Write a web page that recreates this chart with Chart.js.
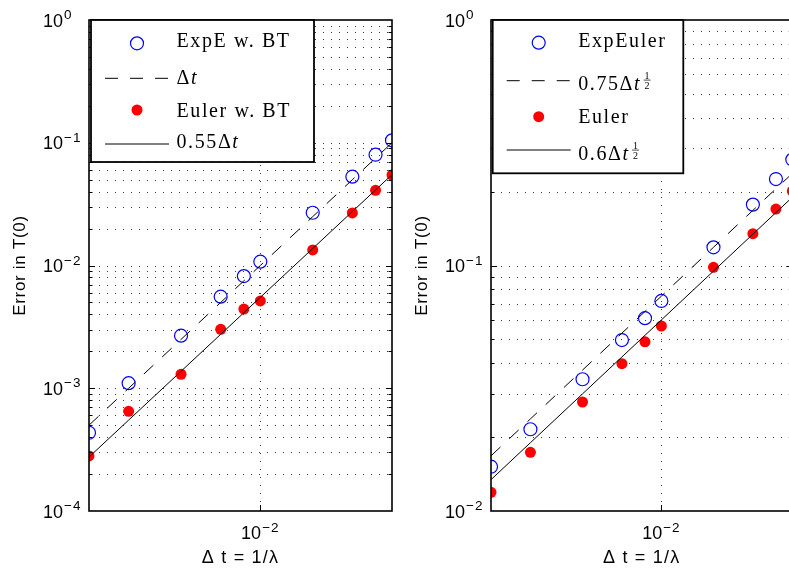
<!DOCTYPE html>
<html>
<head>
<meta charset="utf-8">
<script src="https://cdn.jsdelivr.net/npm/chart.js@4.4.0/dist/chart.umd.min.js"></script>
<style>
  html, body { margin: 0; padding: 0; background: #fff; overflow: hidden; width: 789px; height: 572px; }
  canvas { position: absolute; top: 0; }
  #leftPlot { left: 0; }
  #rightPlot { left: 400px; }
</style>
</head>
<body>
<canvas id="leftPlot" width="400" height="572"></canvas>
<canvas id="rightPlot" width="400" height="572"></canvas>
<script>
// Time steps Δt = 1/λ
const dtValues   = [5e-4, 1e-3, 2.5e-3, 5e-3, 7.5e-3, 1e-2, 2.5e-2, 5e-2, 7.5e-2, 1e-1];

// Errors in T(0), with boundary treatment (left panel)
const expEwBT    = [4.34e-4, 1.10e-3, 2.68e-3, 5.57e-3, 8.20e-3, 1.074e-2, 2.69e-2, 5.29e-2, 7.99e-2, 1.047e-1];
const eulerWBT   = [2.81e-4, 6.49e-4, 1.30e-3, 3.02e-3, 4.42e-3, 5.14e-3, 1.34e-2, 2.68e-2, 4.10e-2, 5.46e-2];

// Errors in T(0), without boundary treatment (right panel)
const expEuler   = [1.515e-2, 2.153e-2, 3.44e-2, 4.97e-2, 6.10e-2, 7.17e-2, 1.186e-1, 1.77e-1, 2.25e-1, 2.70e-1];
const eulerPlain = [1.191e-2, 1.734e-2, 2.78e-2, 3.98e-2, 4.89e-2, 5.67e-2, 9.83e-2, 1.348e-1, 1.698e-1, 2.01e-1];

// Reference slopes C·Δt^p
const leftRefCoef   = [1, 0.55];
const leftRefPower  = 1;
const rightRefCoef  = [0.75, 0.6];
const rightRefPower = 0.5;

const leftLabels  = ['ExpE w. BT', 'Δt', 'Euler w. BT', '0.55Δt'];
const rightLabels = ['ExpEuler', '0.75Δt^{1/2}', 'Euler', '0.6Δt^{1/2}'];

const xTickExponents      = [-2];
const leftYTickExponents  = [0, -1, -2, -3, -4];
const rightYTickExponents = [0, -1, -2];
const xTitle = 'Δ t = 1/λ';
const yTitle = 'Error in T(0)';

const SANS  = '"Liberation Sans", Arial, sans-serif';
const SERIF = '"Liberation Serif", "Times New Roman", serif';

function logGrid(min, max) {
  const vals = [];
  for (let e = Math.floor(Math.log10(min) + 1e-9); e < Math.ceil(Math.log10(max) - 1e-9); e++) {
    for (let k = 1; k <= 9; k++) {
      const v = k * Math.pow(10, e);
      if (v > min * 1.0001 && v < max * 0.9999) vals.push(v);
    }
  }
  return vals;
}

function expText(e) { return e === 0 ? '0' : (e < 0 ? '\u2212' : '') + Math.abs(e); }

// "10" with a raised exponent; x is the left edge of "10"
function drawPow10(ctx, e, x, baseline) {
  ctx.font = '18px ' + SANS;
  ctx.letterSpacing = '0px';
  ctx.textAlign = 'left';
  ctx.textBaseline = 'alphabetic';
  ctx.fillText('10', x, baseline);
  const w = ctx.measureText('10').width;
  ctx.font = '13.5px ' + SANS;
  ctx.letterSpacing = '1px';
  ctx.fillText(expText(e), x + w + 1, baseline - 7.5);
  ctx.letterSpacing = '0px';
}
function pow10Width(ctx, e) {
  ctx.font = '18px ' + SANS; ctx.letterSpacing = '0px';
  const w = ctx.measureText('10').width;
  ctx.font = '13.5px ' + SANS; ctx.letterSpacing = '1px';
  const w2 = ctx.measureText(expText(e)).width;
  ctx.letterSpacing = '0px';
  return w + 1 + w2;
}

// legend text with italic t and an optional ½ exponent
function drawRichLabel(ctx, label, x, baseline) {
  ctx.textAlign = 'left';
  ctx.textBaseline = 'alphabetic';
  ctx.fillStyle = '#000';
  const m = label.match(/^(.*Δ)t(\^\{1\/2\})?$/);
  ctx.letterSpacing = '1.6px';
  if (!m) {
    ctx.font = '20px ' + SERIF;
    ctx.fillText(label, x, baseline);
    ctx.letterSpacing = '0px';
    return;
  }
  ctx.font = '20px ' + SERIF;
  ctx.fillText(m[1], x, baseline);
  let cx = x + ctx.measureText(m[1]).width;
  ctx.letterSpacing = '0px';
  ctx.font = 'italic 20px ' + SERIF;
  ctx.fillText('t', cx, baseline);
  cx += ctx.measureText('t').width;
  if (m[2]) {
    const fx = cx + 4;
    ctx.font = '10px ' + SERIF;
    ctx.textAlign = 'center';
    ctx.fillText('1', fx + 3.5, baseline - 11.2);
    ctx.fillText('2', fx + 3.5, baseline - 1.5);
    ctx.strokeStyle = '#000';
    ctx.lineWidth = 0.7;
    ctx.setLineDash([]);
    ctx.beginPath();
    ctx.moveTo(fx, baseline - 9.9);
    ctx.lineTo(fx + 7, baseline - 9.9);
    ctx.stroke();
    ctx.textAlign = 'left';
  }
}

const framePlugin = {
  id: 'frame',
  beforeDatasetsDraw(chart, _args, o) {
    const { ctx, chartArea: a } = chart;
    const x = chart.scales.x, y = chart.scales.y;
    ctx.save();
    ctx.strokeStyle = '#3a3a3a';
    ctx.lineWidth = 1;
    ctx.setLineDash([1, 7]);
    for (const v of logGrid(y.min, y.max)) {
      const py = Math.round(y.getPixelForValue(v)) + 0.5;
      ctx.beginPath(); ctx.moveTo(a.left + 2, py); ctx.lineTo(a.right - 1, py); ctx.stroke();
    }
    for (const e of o.xTicks) {
      const px = Math.round(x.getPixelForValue(Math.pow(10, e))) + 0.5;
      ctx.beginPath(); ctx.moveTo(px, a.bottom - 1); ctx.lineTo(px, a.top + 1); ctx.stroke();
    }
    ctx.restore();
  },
  afterDatasetsDraw(chart, _args, o) {
    const { ctx, chartArea: a } = chart;
    const x = chart.scales.x, y = chart.scales.y;
    ctx.save();
    ctx.setLineDash([]);
    ctx.strokeStyle = '#000';
    ctx.fillStyle = '#000';

    // tick marks (inward)
    ctx.lineWidth = 1;
    for (const v of logGrid(y.min, y.max)) {
      const py = Math.round(y.getPixelForValue(v)) + 0.5;
      const major = Math.abs(Math.log10(v) - Math.round(Math.log10(v))) < 1e-6;
      const len = major ? 6 : 3.5;
      ctx.beginPath();
      ctx.moveTo(a.left, py); ctx.lineTo(a.left + len, py);
      ctx.moveTo(a.right, py); ctx.lineTo(a.right - len, py);
      ctx.stroke();
    }
    for (const e of o.xTicks) {
      const px = Math.round(x.getPixelForValue(Math.pow(10, e))) + 0.5;
      ctx.beginPath();
      ctx.moveTo(px, a.bottom); ctx.lineTo(px, a.bottom - 6);
      ctx.moveTo(px, a.top); ctx.lineTo(px, a.top + 6);
      ctx.stroke();
    }

    // axes box
    ctx.lineWidth = 1.6;
    ctx.strokeRect(a.left, a.top, a.right - a.left, a.bottom - a.top);

    // tick labels
    for (const e of o.yTicks) {
      const py = y.getPixelForValue(Math.pow(10, e));
      drawPow10(ctx, e, a.left - 46, py + 6.5);
    }
    for (const e of o.xTicks) {
      const px = x.getPixelForValue(Math.pow(10, e));
      const w = pow10Width(ctx, e);
      drawPow10(ctx, e, px - w / 2, a.bottom + 28);
    }

    // axis titles
    ctx.font = '18px ' + SANS;
    ctx.textAlign = 'center';
    ctx.textBaseline = 'alphabetic';
    ctx.letterSpacing = '1.2px';
    ctx.fillText(xTitle, (a.left + a.right) / 2, a.bottom + 52);
    ctx.font = '17px ' + SANS;
    ctx.letterSpacing = '0.7px';
    ctx.save();
    ctx.translate(a.left - 64, (a.top + a.bottom) / 2);
    ctx.rotate(-Math.PI / 2);
    ctx.fillText(yTitle, 0, 0);
    ctx.restore();
    ctx.letterSpacing = '0px';

    // legend
    const L = o.legend;
    ctx.fillStyle = '#fff';
    ctx.fillRect(L.x0, L.y0, L.x1 - L.x0, L.y1 - L.y0);
    ctx.strokeStyle = '#000';
    ctx.lineWidth = 1.8;
    ctx.strokeRect(L.x0, L.y0, L.x1 - L.x0, L.y1 - L.y0);
    chart.data.datasets.forEach((ds, i) => {
      const ry = L.rows[i], by = L.baselines[i];
      if (ds.showLine) {
        ctx.strokeStyle = ds.borderColor;
        ctx.lineWidth = ds.borderWidth;
        ctx.setLineDash(ds.borderDash || []);
        ctx.beginPath();
        ctx.moveTo(L.x0 + 14, ry); ctx.lineTo(L.x0 + 78, ry);
        ctx.stroke();
        ctx.setLineDash([]);
      } else {
        ctx.beginPath();
        ctx.arc(L.x0 + 46, ry, ds.pointRadius, 0, Math.PI * 2);
        if (ds.pointBackgroundColor !== 'rgba(0,0,0,0)') {
          ctx.fillStyle = ds.pointBackgroundColor; ctx.fill();
        } else {
          ctx.strokeStyle = ds.pointBorderColor; ctx.lineWidth = ds.pointBorderWidth; ctx.stroke();
        }
      }
      drawRichLabel(ctx, ds.label, L.x0 + 85.5, by);
    });
    ctx.restore();
  }
};

function refLine(coef, power) {
  return dtValues.map(t => ({ x: t, y: coef * Math.pow(t, power) }));
}
function pts(values) {
  return dtValues.map((t, i) => ({ x: t, y: values[i] }));
}

function buildPanel(canvasId, cfg) {
  const datasets = [
    { label: cfg.labels[0], data: pts(cfg.open), showLine: false, order: 1,
      pointRadius: 6.5, pointBorderWidth: 1.2, pointBorderColor: '#0000ff',
      pointBackgroundColor: 'rgba(0,0,0,0)' },
    { label: cfg.labels[1], data: refLine(cfg.coef[0], cfg.power), showLine: true, order: 0,
      pointRadius: 0, borderColor: '#000', borderWidth: 1, borderDash: [13, 12], fill: false },
    { label: cfg.labels[2], data: pts(cfg.filled), showLine: false, order: 1,
      pointRadius: 5.5, pointBorderWidth: 0, pointBorderColor: '#ff0000',
      pointBackgroundColor: '#ff0000' },
    { label: cfg.labels[3], data: refLine(cfg.coef[1], cfg.power), showLine: true, order: 0,
      pointRadius: 0, borderColor: '#000', borderWidth: 1, fill: false }
  ];
  return new Chart(document.getElementById(canvasId), {
    type: 'scatter',
    data: { datasets },
    plugins: [framePlugin],
    options: {
      responsive: false,
      animation: false,
      devicePixelRatio: 1,
      events: [],
      layout: { padding: cfg.padding },
      plugins: {
        legend: { display: false },
        tooltip: { enabled: false },
        frame: { xTicks: xTickExponents, yTicks: cfg.yTicks, legend: cfg.legend }
      },
      scales: {
        x: { type: 'logarithmic', min: dtValues[0], max: dtValues[dtValues.length - 1], bounds: 'data', display: false },
        y: { type: 'logarithmic', min: cfg.yMin, max: cfg.yMax, bounds: 'data', display: false }
      }
    }
  });
}

buildPanel('leftPlot', {
  labels: leftLabels, open: expEwBT, filled: eulerWBT,
  coef: leftRefCoef, power: leftRefPower,
  yMin: 1e-4, yMax: 1, yTicks: leftYTickExponents,
  padding: { left: 89, top: 20, right: 8, bottom: 61 },
  legend: { x0: 91, y0: 20, x1: 314, y1: 162,
            rows: [43.3, 78.3, 110, 144], baselines: [46.7, 84, 117, 148.3] }
});

buildPanel('rightPlot', {
  labels: rightLabels, open: expEuler, filled: eulerPlain,
  coef: rightRefCoef, power: rightRefPower,
  yMin: 1e-2, yMax: 1, yTicks: rightYTickExponents,
  padding: { left: 91, top: 20, right: 6, bottom: 61 },
  legend: { x0: 92.7, y0: 20, x1: 283.3, y1: 173.3,
            rows: [42.7, 80.7, 116.7, 150], baselines: [47.3, 90, 123.3, 160] }
});
</script>
</body>
</html>
